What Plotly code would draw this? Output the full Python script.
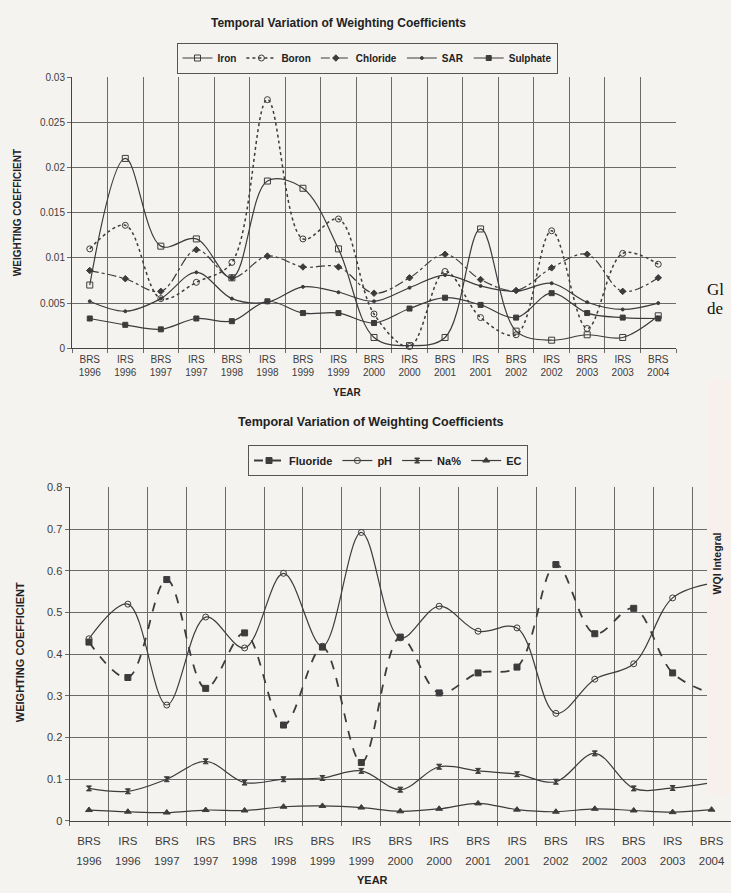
import plotly.graph_objects as go

W, H = 731, 893

# ---------------- data ----------------
periods = ["BRS", "IRS", "BRS", "IRS", "BRS", "IRS", "BRS", "IRS", "BRS",
           "IRS", "BRS", "IRS", "BRS", "IRS", "BRS", "IRS", "BRS"]
years = ["1996", "1996", "1997", "1997", "1998", "1998", "1999", "1999", "2000",
         "2000", "2001", "2001", "2002", "2002", "2003", "2003", "2004"]
labels = [f"{p}<br>{y}" for p, y in zip(periods, years)]

# top chart
iron = [0.0070, 0.0210, 0.0113, 0.0121, 0.0078, 0.0185, 0.0177, 0.0110, 0.0012,
        0.0003, 0.0012, 0.0132, 0.0019, 0.0009, 0.0015, 0.0012, 0.0036]
boron = [0.0110, 0.0136, 0.0055, 0.0073, 0.0095, 0.0275, 0.0121, 0.0143, 0.0038,
         0.0002, 0.0085, 0.0034, 0.0015, 0.0130, 0.0022, 0.0105, 0.0093]
chloride = [0.0086, 0.0077, 0.0063, 0.0109, 0.0078, 0.0102, 0.0090, 0.0090, 0.0061,
            0.0078, 0.0104, 0.0076, 0.0064, 0.0089, 0.0104, 0.0063, 0.0078]
sar = [0.0052, 0.0041, 0.0055, 0.0084, 0.0055, 0.0051, 0.0068, 0.0062, 0.0052,
       0.0067, 0.0081, 0.0069, 0.0063, 0.0072, 0.0051, 0.0043, 0.0050]
sulphate = [0.0033, 0.0026, 0.0021, 0.0033, 0.0030, 0.0052, 0.0039, 0.0039, 0.0028,
            0.0044, 0.0056, 0.0048, 0.0034, 0.0061, 0.0039, 0.0034, 0.0033]

# bottom chart
fluoride = [0.429, 0.344, 0.579, 0.318, 0.451, 0.230, 0.417, 0.140, 0.441,
            0.307, 0.355, 0.369, 0.615, 0.449, 0.510, 0.355, 0.305]
ph = [0.437, 0.520, 0.278, 0.489, 0.415, 0.594, 0.419, 0.692, 0.439,
      0.515, 0.455, 0.463, 0.258, 0.340, 0.377, 0.535, 0.570]
na_pct = [0.078, 0.071, 0.100, 0.143, 0.092, 0.100, 0.103, 0.120, 0.075,
          0.130, 0.120, 0.112, 0.094, 0.162, 0.078, 0.079, 0.092]
ec = [0.026, 0.022, 0.020, 0.026, 0.025, 0.034, 0.036, 0.032, 0.023,
      0.029, 0.042, 0.027, 0.022, 0.029, 0.025, 0.021, 0.027]

# ---------------- style ----------------
INK = "#3c3c3c"
GRID = "#6a6a6a"
BG = "#f5f3f0"
FONT = "Liberation Sans Narrow, Liberation Sans, Arial, sans-serif"
FONTB = "Liberation Sans, Arial, sans-serif"


def px(x):
    return x / W


def py(y):
    return 1 - y / H


fig = go.Figure()


def add(y, name, xa, ya, legend, symbol, size, dash="solid", width=1.2):
    fig.add_trace(go.Scatter(
        x=labels, y=y, name=f"<b>{name}</b>", xaxis=xa, yaxis=ya, legend=legend,
        mode="lines+markers",
        line=dict(color=INK, width=width, dash=dash, shape="spline", smoothing=1.0),
        marker=dict(symbol=symbol, size=size, color=INK, line=dict(color=INK, width=1)),
        cliponaxis=False,
    ))


add(iron, "Iron", "x", "y", "legend", "square-open", 6)
add(boron, "Boron", "x", "y", "legend", "circle-open", 6, dash="dot", width=1.5)
add(chloride, "Chloride", "x", "y", "legend", "diamond", 5, dash="dashdot")
add(sar, "SAR", "x", "y", "legend", "circle", 3)
add(sulphate, "Sulphate", "x", "y", "legend", "square", 5)

add(fluoride, "Fluoride", "x2", "y2", "legend2", "square", 6, dash="dash", width=1.8)
add(ph, "pH", "x2", "y2", "legend2", "circle-open", 6)
add(na_pct, "Na%", "x2", "y2", "legend2", "hourglass", 5)
add(ec, "EC", "x2", "y2", "legend2", "triangle-up", 6)

ncat = len(labels)
# invisible carriers so the two label rows of the lower chart get their own axes
for xa in ("x3", "x4"):
    fig.add_trace(go.Scatter(x=list(range(ncat)), y=[None] * ncat, xaxis=xa, yaxis="y2",
                             mode="markers", showlegend=False, hoverinfo="skip"))

xcommon = dict(type="category", tickson="boundaries", showgrid=True, gridcolor=GRID,
               gridwidth=1, showline=True, linecolor="#444", linewidth=1.2,
               ticks="outside", ticklen=4, tickcolor=GRID, zeroline=False,
               tickangle=0, fixedrange=True)
ycommon = dict(showgrid=True, gridcolor=GRID, gridwidth=1, showline=True,
               linecolor="#444", linewidth=1, zeroline=False, ticks="outside",
               ticklen=4, tickcolor=GRID)

label_axis = dict(overlaying="x2", anchor="y2", side="bottom", type="linear",
                  range=[-0.5, ncat - 0.5], tickmode="array",
                  tickvals=list(range(ncat)), showgrid=False, zeroline=False,
                  showline=False, ticks="", tickangle=0,
                  tickfont=dict(size=11.5, family=FONT, color=INK))

fig.update_layout(
    width=W, height=H,
    margin=dict(l=0, r=0, t=0, b=0),
    paper_bgcolor=BG, plot_bgcolor=BG,
    font=dict(family=FONT, color=INK),
    xaxis=dict(domain=[px(72), px(676)], anchor="y", range=[-0.5, 16.5],
               tickfont=dict(size=10, family=FONT, color=INK), ticklabelstandoff=2,
               **xcommon),
    yaxis=dict(domain=[py(347), py(72)], anchor="x", range=[0, 0.03], dtick=0.005,
               tickfont=dict(size=10, family=FONTB, color=INK), **ycommon),
    xaxis2=dict(domain=[px(69.5), 1.0], anchor="y2", range=[-0.5, 16.5],
                showticklabels=False, **xcommon),
    xaxis3=dict(ticktext=periods, ticklabelstandoff=12, **label_axis),
    xaxis4=dict(ticktext=years, ticklabelstandoff=32, **label_axis),
    yaxis2=dict(domain=[py(826), py(488)], anchor="x2", range=[0, 0.8], dtick=0.1,
                tickfont=dict(size=11, family=FONTB, color=INK), **ycommon),
    legend=dict(orientation="h", x=px(367), xanchor="center", y=py(37), yanchor="top",
                bordercolor="#555", borderwidth=1, bgcolor=BG, itemwidth=30,
                font=dict(size=10, family=FONTB, color="#222"), tracegroupgap=0),
    legend2=dict(orientation="h", x=px(388), xanchor="center", y=py(445), yanchor="top",
                 bordercolor="#555", borderwidth=1, bgcolor=BG, itemwidth=30,
                 font=dict(size=11, family=FONT, color="#222"), tracegroupgap=0),
    showlegend=True,
)

ann = []
ann.append(dict(text="<b>Temporal Variation of Weighting Coefficients</b>", x=px(338), y=py(17),
                xref="paper", yref="paper", showarrow=False, xanchor="center", yanchor="middle",
                font=dict(size=12, family=FONTB, color="#222")))
ann.append(dict(text="<b>Temporal Variation of Weighting Coefficients</b>", x=px(371), y=py(422),
                xref="paper", yref="paper", showarrow=False, xanchor="center", yanchor="middle",
                font=dict(size=12.5, family=FONTB, color="#222")))
ann.append(dict(text="<b>WEIGHTING COEFFICIENT</b>", x=px(17), y=py(210), textangle=-90,
                xref="paper", yref="paper", showarrow=False, xanchor="center", yanchor="middle",
                font=dict(size=10, family=FONTB, color="#222")))
ann.append(dict(text="<b>WEIGHTING COEFFICIENT</b>", x=px(20), y=py(655), textangle=-90,
                xref="paper", yref="paper", showarrow=False, xanchor="center", yanchor="middle",
                font=dict(size=11, family=FONTB, color="#222")))
ann.append(dict(text="<b>YEAR</b>", x=px(347), y=py(392), xref="paper", yref="paper",
                showarrow=False, xanchor="center", yanchor="middle",
                font=dict(size=10, family=FONTB, color="#222")))
ann.append(dict(text="<b>YEAR</b>", x=px(372), y=py(886), xref="paper", yref="paper",
                showarrow=False, xanchor="center", yanchor="middle",
                font=dict(size=11, family=FONTB, color="#222")))
# fragments of the neighbouring scanned page
ann.append(dict(text="Gl", x=px(705), y=py(287), xref="paper", yref="paper", showarrow=False,
                xanchor="left", yanchor="middle",
                font=dict(size=17, family="Liberation Serif, serif", color="#111")))
ann.append(dict(text="de", x=px(705), y=py(307), xref="paper", yref="paper", showarrow=False,
                xanchor="left", yanchor="middle",
                font=dict(size=17, family="Liberation Serif, serif", color="#111")))
ann.append(dict(text="<b>WQI Integral</b>", x=px(717), y=py(565), textangle=-90,
                xref="paper", yref="paper", showarrow=False, xanchor="center", yanchor="middle",
                font=dict(size=10.5, family=FONTB, color="#222")))
fig.update_layout(annotations=ann)

fig.add_shape(type="rect", xref="paper", yref="paper", x0=px(707), x1=1.0,
              y0=py(800), y1=py(378), fillcolor="#f8f0ec", line=dict(width=0), layer="above")

fig.write_html(
    "out.html",
    config={"displayModeBar": False},
    post_script="document.body.style.margin='0';"
                "document.documentElement.style.overflow='hidden';"
                "document.body.style.overflow='hidden';",
)
